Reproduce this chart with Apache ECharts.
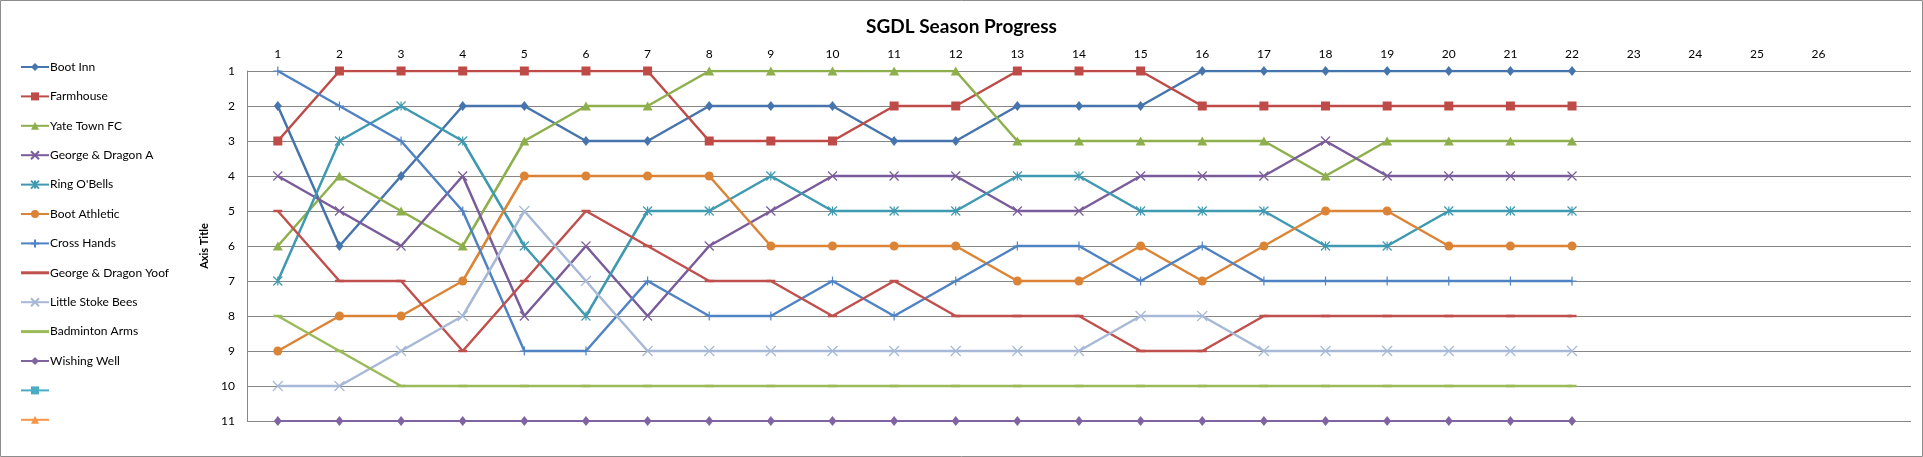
<!DOCTYPE html>
<html>
<head>
<meta charset="utf-8">
<script src="https://cdn.jsdelivr.net/npm/echarts@6/dist/echarts.min.js"></script>
<style>
html,body{margin:0;padding:0;background:#fff;}
#chart{width:1923px;height:457px;}
</style>
</head>
<body>
<div id="chart"></div>
<script>
const rounds = ['1','2','3','4','5','6','7','8','9','10','11','12','13','14','15','16','17','18','19','20','21','22','23','24','25','26',''];
const positionTicks = [1,2,3,4,5,6,7,8,9,10,11];

const bootInn       = [2,6,4,2,2,3,3,2,2,2,3,3,2,2,2,1,1,1,1,1,1,1];
const farmhouse     = [3,1,1,1,1,1,1,3,3,3,2,2,1,1,1,2,2,2,2,2,2,2];
const yateTownFC    = [6,4,5,6,3,2,2,1,1,1,1,1,3,3,3,3,3,4,3,3,3,3];
const georgeDragonA = [4,5,6,4,8,6,8,6,5,4,4,4,5,5,4,4,4,3,4,4,4,4];
const ringOBells    = [7,3,2,3,6,8,5,5,4,5,5,5,4,4,5,5,5,6,6,5,5,5];
const bootAthletic  = [9,8,8,7,4,4,4,4,6,6,6,6,7,7,6,7,6,5,5,6,6,6];
const crossHands    = [1,2,3,5,9,9,7,8,8,7,8,7,6,6,7,6,7,7,7,7,7,7];
const georgeDragonYoof = [5,7,7,9,7,5,6,7,7,8,7,8,8,8,9,9,8,8,8,8,8,8];
const littleStokeBees  = [10,10,9,8,5,7,9,9,9,9,9,9,9,9,8,8,9,9,9,9,9,9];
const badmintonArms    = [8,9,10,10,10,10,10,10,10,10,10,10,10,10,10,10,10,10,10,10,10,10];
const wishingWell      = [11,11,11,11,11,11,11,11,11,11,11,11,11,11,11,11,11,11,11,11,11,11];
const blankA = [];
const blankB = [];

const X_PATH = 'path://M0,0L10,10M10,0L0,10';
const STAR_PATH = 'path://M0,0L10,10M10,0L0,10M5,0L5,10';
const PLUS_PATH = 'path://M5,0L5,10M0,5L10,5';
const LINE_ICON = 'path://M0,0L28,0L28,3L0,3Z';

function mk(name, data, color, symbol, size, opts) {
  opts = opts || {};
  return {
    name: name,
    type: 'line',
    data: data,
    symbol: symbol,
    symbolSize: size,
    showSymbol: true,
    z: opts.z || 2,
    lineStyle: { color: color, width: opts.width || 2.5 },
    itemStyle: {
      color: opts.stroke ? 'rgba(0,0,0,0)' : color,
      borderColor: color,
      borderWidth: opts.stroke ? 1.2 : 0
    },
    emphasis: { disabled: true }
  };
}

const series = [
  mk('Boot Inn', bootInn, '#4674AC', 'diamond', [8,10]),
  mk('Farmhouse', farmhouse, '#BE4B48', 'rect', 9),
  mk('Yate Town FC', yateTownFC, '#8EB04C', 'triangle', [10,9]),
  mk('George & Dragon A', georgeDragonA, '#7A5C9B', X_PATH, 9, {stroke:true}),
  mk("Ring O'Bells", ringOBells, '#3F9AB1', STAR_PATH, 9, {stroke:true}),
  mk('Boot Athletic', bootAthletic, '#DC8436', 'circle', 9),
  mk('Cross Hands', crossHands, '#4F83C3', PLUS_PATH, 9, {stroke:true}),
  mk('George & Dragon Yoof', georgeDragonYoof, '#C0504D', 'rect', [9,2.5]),
  mk('Little Stoke Bees', littleStokeBees, '#A7B9D6', X_PATH, 10, {stroke:true}),
  mk('Badminton Arms', badmintonArms, '#9BBB59', 'rect', [9,2.5]),
  mk('Wishing Well', wishingWell, '#8064A2', 'diamond', [8,10], {width:2}),
  mk(' ', blankA, '#4BACC6', 'rect', 10),
  mk('  ', blankB, '#F79646', 'triangle', [11,10])
];

const legendData = series.map(s => {
  if (s.name === 'George & Dragon Yoof' || s.name === 'Badminton Arms') {
    return { name: s.name, icon: LINE_ICON };
  }
  return { name: s.name };
});

const chart = echarts.init(document.getElementById('chart'), null, {renderer:'canvas'});
chart.setOption({
  animation: false,
  backgroundColor: '#ffffff',
  textStyle: { fontFamily: 'Lato, "Liberation Sans", sans-serif' },
  title: {
    text: 'SGDL Season Progress',
    left: 'center',
    top: 12,
    textStyle: { fontFamily: 'Lato, sans-serif', fontSize: 19, fontWeight: 'bold', color: '#000' }
  },
  graphic: [{
    type: 'rect',
    shape: { x: 0.5, y: 0.5, width: 1922, height: 456 },
    style: { fill: 'none', stroke: '#8c8c8c', lineWidth: 1 },
    silent: true, z: -1
  }],
  legend: {
    orient: 'vertical',
    left: 15,
    top: 56,
    itemWidth: 28,
    itemHeight: 10,
    itemGap: 17.4,
    textStyle: { fontFamily: 'Lato, sans-serif', fontSize: 12, color: '#000', padding: [0,0,0,-4] },
    data: legendData,
    selectedMode: false
  },
  grid: { left: 247, right: 12, top: 71, bottom: 36, containLabel: false },
  xAxis: {
    type: 'category',
    position: 'top',
    data: rounds,
    boundaryGap: true,
    axisLine: { show: false },
    axisTick: { show: false },
    axisLabel: { color: '#000', fontSize: 12, margin: 11, interval: 0, fontFamily: 'Lato, sans-serif' },
    splitLine: { show: false }
  },
  yAxis: {
    type: 'value',
    inverse: true,
    min: positionTicks[0],
    max: positionTicks[positionTicks.length - 1],
    interval: 1,
    name: 'Axis Title',
    nameLocation: 'middle',
    nameRotate: 90,
    nameGap: 35,
    nameTextStyle: { fontSize: 11, fontWeight: 'bold', color: '#000', fontFamily: 'Lato, sans-serif' },
    axisLine: { show: true, lineStyle: { color: '#868686', width: 1 } },
    axisTick: { show: false },
    axisLabel: { color: '#000', fontSize: 12, margin: 12, fontFamily: 'Lato, sans-serif' },
    splitLine: { show: true, lineStyle: { color: '#868686', width: 1 } }
  },
  series: series
});
</script>
</body>
</html>
